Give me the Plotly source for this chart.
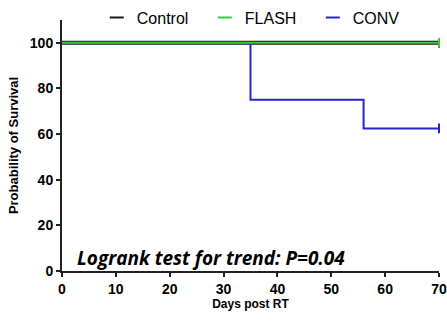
import plotly.graph_objects as go

# Data (Kaplan-Meier step curves, % survival)
days_control = [0, 70]
surv_control = [100, 100]
days_flash = [0, 70]
surv_flash = [100, 100]
days_conv = [0, 35, 56, 70]
surv_conv = [100, 75, 62.5, 62.5]

x_ticks = [0, 10, 20, 30, 40, 50, 60, 70]
y_ticks = [0, 20, 40, 60, 80, 100]

series = [
    ("Control", days_control, surv_control, "#1a1a1a", 4),
    ("CONV", days_conv, surv_conv, "#2525d0", 2),
    ("FLASH", days_flash, surv_flash, "#3ec83e", 2),
]
legend_rank = {"Control": 1, "FLASH": 2, "CONV": 3}

fig = go.Figure()
for name, x, y, color, width in series:
    fig.add_trace(go.Scatter(
        x=x, y=y, name=name, mode="lines", line=dict(color=color, width=width, shape="hv"),
        showlegend=False, cliponaxis=False))
    # censor mark at end
    fig.add_trace(go.Scatter(
        x=[x[-1]], y=[y[-1]], mode="markers", showlegend=False,
        marker=dict(symbol="line-ns", size=7, line=dict(color=color, width=2)),
        cliponaxis=False, hoverinfo="skip"))
    # legend entry (short symbol)
    fig.add_trace(go.Scatter(
        x=[None], y=[None], name=name, mode="markers", showlegend=True,
        legendrank=legend_rank[name],
        marker=dict(symbol="line-ew", size=10, line=dict(color=color, width=2))))

fig.update_layout(
    width=447, height=321,
    margin=dict(l=62, r=8, t=20, b=50, autoexpand=False),
    paper_bgcolor="white", plot_bgcolor="white",
    font=dict(family="Liberation Sans, Arial, sans-serif", color="black"),
    legend=dict(orientation="h", x=0.522, y=1.01, xanchor="center", yanchor="middle",
                font=dict(size=16), itemwidth=30, entrywidth=63,
                bgcolor="rgba(0,0,0,0)"),
    xaxis=dict(range=[0, 70], tickvals=x_ticks, showgrid=False, zeroline=False,
               showline=True, linecolor="#222", linewidth=2, ticks="outside",
               ticklen=4, tickwidth=1.5, tickcolor="#222",
               tickfont=dict(size=14, family="Liberation Sans, Arial", weight="bold"),
               title=dict(text="<b>Days post RT</b>", font=dict(size=12), standoff=4)),
    yaxis=dict(range=[0, 110], tickvals=y_ticks, showgrid=False, zeroline=False,
               showline=True, linecolor="#222", linewidth=2, ticks="outside",
               ticklen=4, tickwidth=1.5, tickcolor="#222",
               tickfont=dict(size=14, family="Liberation Sans, Arial", weight="bold"),
               title=dict(text="<b>Probability of Survival</b>", font=dict(size=13), standoff=8)),
)

fig.add_annotation(
    x=2.5, y=5.5, xref="x", yref="y", xanchor="left", yanchor="middle",
    text="<b><i>Logrank test for trend: P=0.04</i></b>", showarrow=False,
    font=dict(size=19, family="Open Sans, sans-serif", color="black"))

fig.write_html("out.html")
